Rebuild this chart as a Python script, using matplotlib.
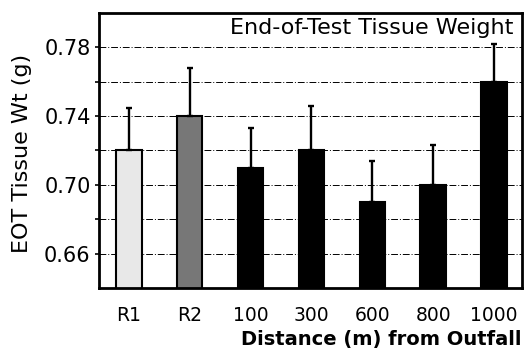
import matplotlib
matplotlib.use('Agg')
import matplotlib.pyplot as plt
import numpy as np

plt.rcParams['font.family'] = ['DejaVu Sans']

sites = ['R1', 'R2', '100', '300', '600', '800', '1000']
weight = [0.720, 0.740, 0.710, 0.720, 0.690, 0.700, 0.760]
err = [0.025, 0.028, 0.023, 0.026, 0.024, 0.023, 0.022]
colors = ['#e8e8e8', '#777777', 'black', 'black', 'black', 'black', 'black']

fig = plt.figure(figsize=(5.25, 3.54), dpi=100)
ax = fig.add_axes([0.1886, 0.1864, 0.8057, 0.777])

x = np.arange(len(sites))
ax.bar(x, weight, width=0.42, color=colors, edgecolor='black', linewidth=1.5, zorder=2)
ax.errorbar(x, weight, yerr=[np.zeros(len(err)), err], fmt='none', ecolor='black',
            elinewidth=1.7, capsize=2, capthick=1.7, zorder=3)

# dashed grid every 0.02
for g in np.arange(0.66, 0.781, 0.02):
    ax.axhline(g, color='black', lw=0.7, ls=(0, (7, 2, 1, 2)), zorder=1)

ax.set_ylim(0.64, 0.80)
ax.set_xlim(-0.49, 6.46)
ax.set_yticks([0.66, 0.70, 0.74, 0.78])
ax.set_yticklabels(['0.66', '0.70', '0.74', '0.78'])
ax.set_yticks([0.68, 0.72, 0.76], minor=True)
ax.tick_params(axis='y', which='both', direction='out', length=3, width=1.2, labelsize=15, pad=3)
ax.set_xticks(x)
ax.set_xticklabels(sites)
ax.tick_params(axis='x', length=0, labelsize=13.5, pad=13)

for s in ax.spines.values():
    s.set_linewidth(2)

ax.set_ylabel('EOT Tissue Wt (g)', fontsize=16)
ax.yaxis.set_label_coords(-0.158, 0.49)
ax.text(0.98, 0.945, 'End-of-Test Tissue Weight', transform=ax.transAxes,
        ha='right', va='center', fontsize=16)
fig.text(0.993, 0.04, 'Distance (m) from Outfall', ha='right', va='center',
         fontsize=14, fontweight='bold')

plt.savefig('out.png', dpi=100)
plt.close('all')
